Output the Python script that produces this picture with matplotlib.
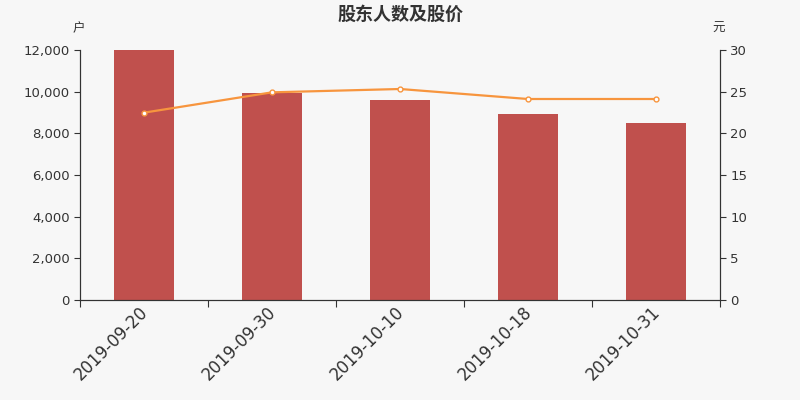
import matplotlib
matplotlib.use('Agg')
import matplotlib.pyplot as plt
import matplotlib.ticker as mticker
import numpy as np

plt.rcParams['font.family'] = ['DejaVu Sans', 'Noto Sans CJK SC']

# data
dates = ['2019-09-20', '2019-09-30', '2019-10-10', '2019-10-18', '2019-10-31']
holders = [11980, 9920, 9600, 8930, 8510]
prices = [22.48, 24.92, 25.32, 24.12, 24.12]

bg = '#f7f7f7'
txt = '#333333'

fig = plt.figure(figsize=(8, 4), dpi=100, facecolor=bg)
ax = fig.add_axes([0.1, 0.25, 0.8, 0.625])
ax.set_facecolor(bg)

x = np.arange(len(dates))
ax.bar(x, holders, width=0.47, color='#c0504d', zorder=2)
ax.set_xlim(-0.5, len(dates) - 0.5)
ax.set_ylim(0, 12000)
ax.set_yticks(np.arange(0, 12001, 2000))
ax.yaxis.set_major_formatter(mticker.FuncFormatter(lambda v, p: f'{int(v):,}'))

# category ticks on boundaries, labels at centres
ax.set_xticks(np.arange(-0.5, len(dates), 1.0))
ax.set_xticklabels([])
ax.set_xticks(x - 0.04, minor=True)
ax.set_xticklabels(dates, minor=True, rotation=45, ha='right',
                   rotation_mode='anchor', fontsize=12, color=txt)
ax.tick_params(axis='x', which='minor', length=0, pad=2)
ax.tick_params(axis='x', which='major', length=5, color=txt)
ax.tick_params(axis='y', labelsize=9.5, labelcolor=txt, length=4, color=txt)

ax2 = ax.twinx()
ax2.plot(x, prices, color='#f7953e', lw=1.6, marker='o', ms=3.5,
         mfc='white', mec='#f7953e', mew=1, zorder=3)
ax2.set_ylim(0, 30)
ax2.set_yticks(np.arange(0, 31, 5))
ax2.tick_params(axis='y', labelsize=9.5, labelcolor=txt, length=4, color=txt)

for a in (ax, ax2):
    a.spines['top'].set_visible(False)
    for s in ('left', 'right', 'bottom'):
        a.spines[s].set_color(txt)

fig.text(0.5, 0.965, '股东人数及股价', ha='center', va='center', fontsize=13,
         fontweight='bold', color=txt, family=['Noto Sans CJK SC', 'DejaVu Sans'])
fig.text(0.098, 0.928, '户', ha='center', va='center', fontsize=9, color=txt,
         family=['Noto Sans CJK SC', 'DejaVu Sans'])
fig.text(0.898, 0.928, '元', ha='center', va='center', fontsize=9, color=txt,
         family=['Noto Sans CJK SC', 'DejaVu Sans'])

fig.savefig('out.png', dpi=100, facecolor=bg)
